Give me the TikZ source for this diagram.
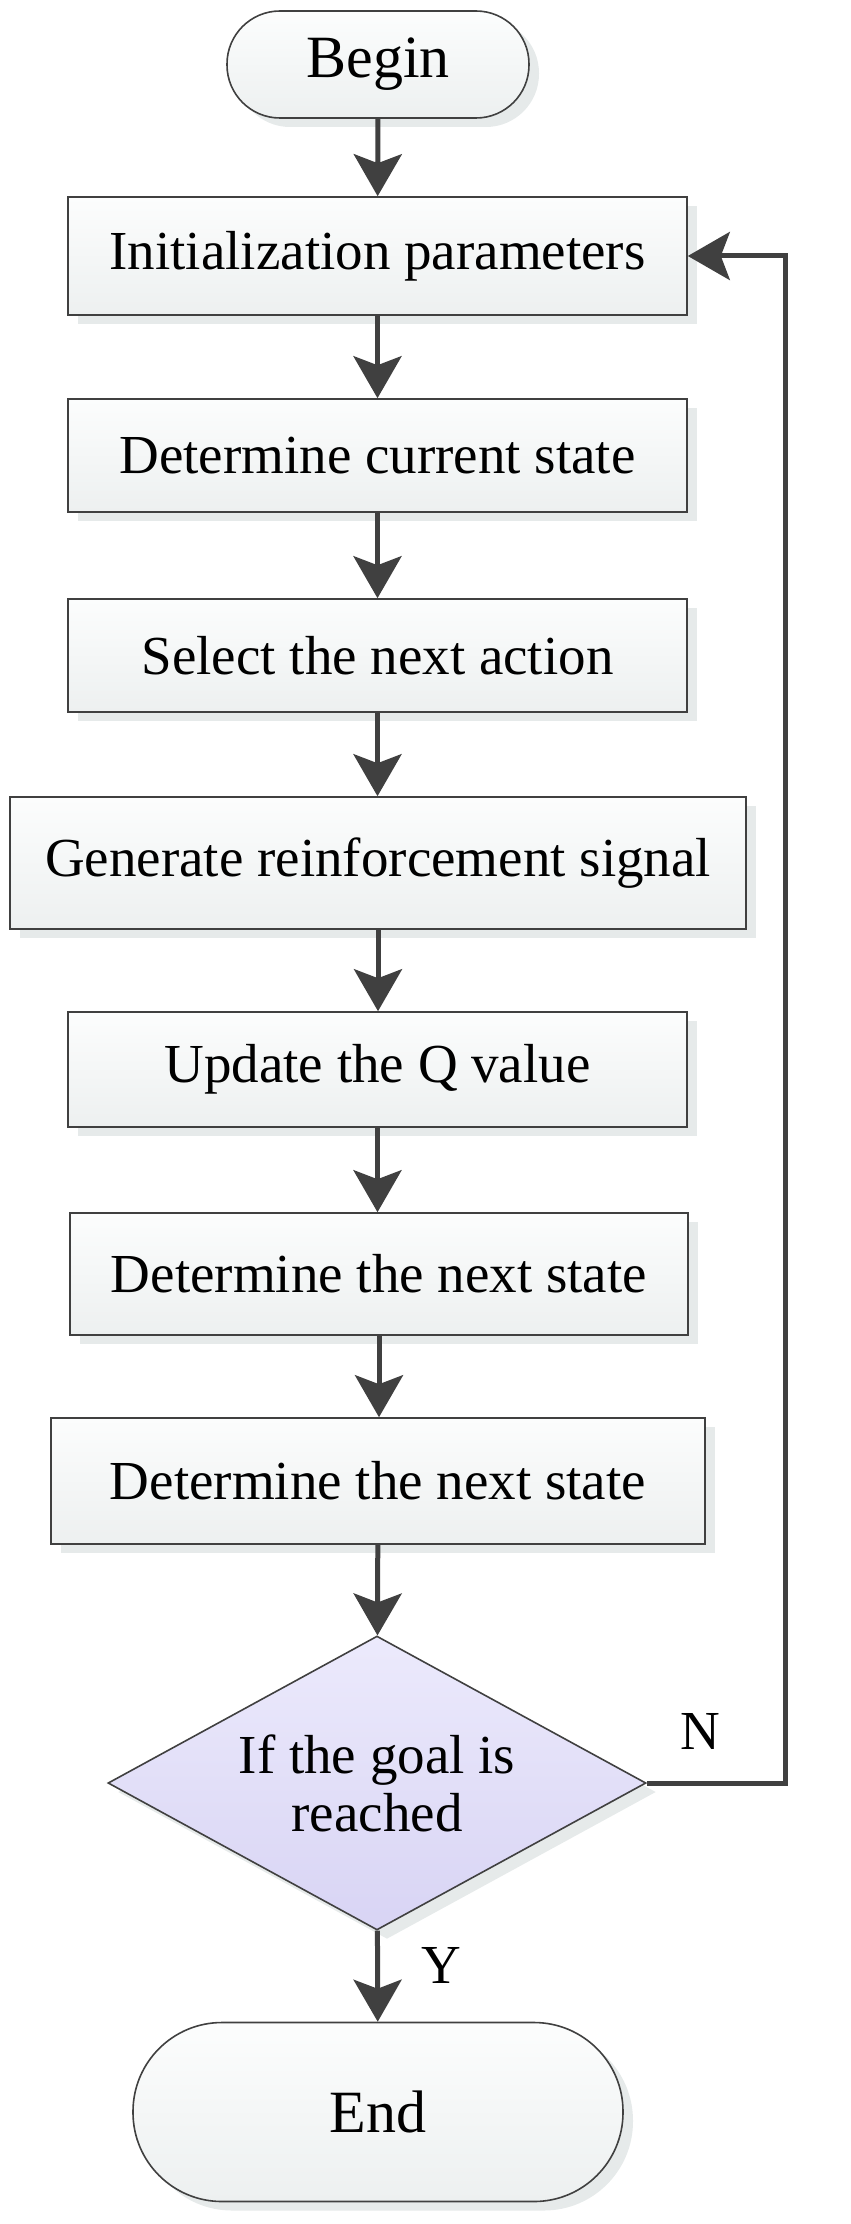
\documentclass[tikz,border=0pt]{standalone}
\usepackage{fontspec}
\setmainfont{Liberation Serif}
\usetikzlibrary{arrows.meta,shapes.geometric,shadows}
\definecolor{linec}{HTML}{404040}
\definecolor{boxtop}{HTML}{FCFDFD}
\definecolor{boxbot}{HTML}{EDF0F0}
\definecolor{diatop}{HTML}{ECEAFC}
\definecolor{diabot}{HTML}{D8D4F4}
\definecolor{shadowc}{HTML}{E6EAEA}
\tikzset{
  base/.style={draw=linec, line width=1.6bp, inner sep=0pt,
    top color=boxtop, bottom color=boxbot,
    drop shadow={shadow xshift=10bp, shadow yshift=-9bp, fill=shadowc, opacity=1},
    font=\fontsize{55bp}{58bp}\selectfont, align=center},
  procbox/.style={base, rectangle, minimum width=619bp, minimum height=115bp},
  termbox/.style={base, rectangle},
  decbox/.style={base, diamond, aspect=1.83, top color=diatop, bottom color=diabot},
  flow/.style={draw=linec, line width=5bp, -{Stealth[length=42bp,width=48bp,inset=9bp]}},
  loopline/.style={draw=linec, line width=5bp},
  lbl/.style={font=\fontsize{55bp}{58bp}\selectfont, inner sep=0pt}
}
\begin{document}
\begin{tikzpicture}[x=1bp,y=-1bp]
\useasboundingbox (0,0) rectangle (850,2224);
\node[termbox, minimum width=302bp, minimum height=107bp, rounded corners=53bp] (begin) at (378,64.5) {\fontsize{60bp}{62bp}\selectfont Begin};
\node[procbox, minimum height=118bp] (init) at (377.5,256) {Initialization parameters};
\node[procbox, minimum height=113bp] (cur) at (377.5,455.5) {Determine current state};
\node[procbox, minimum height=113bp] (sel) at (377.5,655.5) {Select the next action};
\node[procbox, minimum width=736bp, minimum height=132bp] (gen) at (378,863) {Generate reinforcement signal};
\node[procbox, minimum height=115bp] (upd) at (377.5,1069.5) {Update the Q value};
\node[procbox, minimum width=618bp, minimum height=122bp] (nxt) at (379,1274) {Determine the next state};
\node[procbox, minimum width=654bp, minimum height=126bp] (nxt2) at (378,1481) {Determine the next state};
\node[decbox, minimum width=538bp, minimum height=294bp] (goal) at (377,1783) {If the goal is\\reached};
\node[termbox, minimum width=490bp, minimum height=179bp, rounded corners=89bp] (end) at (378,2112) {\fontsize{60bp}{62bp}\selectfont End};
\coordinate (c1) at (785,1783);
\coordinate (c2) at (785,256);
\draw[flow] (begin) -- (init);
\draw[flow] (init) -- (cur);
\draw[flow] (cur) -- (sel);
\draw[flow] (sel.south) -- (sel.south |- gen.north);
\draw[flow] (gen.south) -- (gen.south |- upd.north);
\draw[flow] (upd) -- (upd.south |- nxt.north);
\draw[flow] (nxt.south) -- (nxt.south |- nxt2.north);
\draw[flow] (nxt2) -- (goal);
\draw[flow] (goal) -- (end);
\draw[loopline, line join=miter] (goal.east) -- (c1) -- (c2) -- ([xshift=42bp]init.east);
\draw[flow] ([xshift=43bp]init.east) -- (init.east);
\node[lbl] (n) at (700,1731) {N};
\node[lbl] (y) at (441,1965) {Y};
\end{tikzpicture}
\end{document}
